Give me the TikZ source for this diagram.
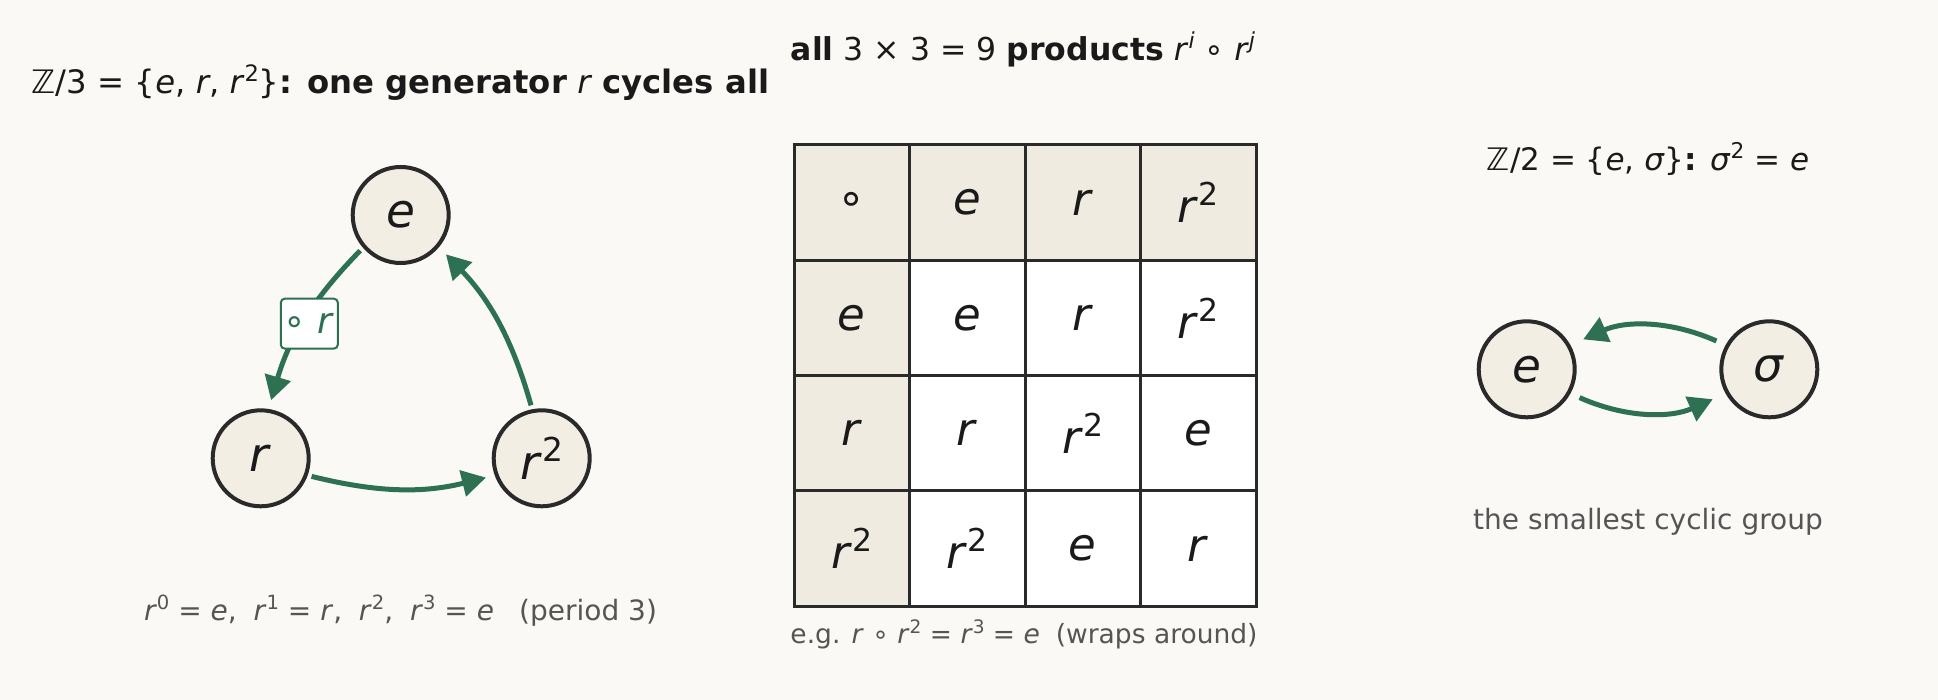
\documentclass[tikz,border=0pt]{standalone}
\usepackage{fontspec}
\usepackage{graphicx}
\setmainfont{DejaVu Sans}
\usetikzlibrary{arrows.meta}
\definecolor{bg}{HTML}{FAF9F6}
\definecolor{nodefill}{HTML}{F2EEE4}
\definecolor{nodeline}{HTML}{2A2A2A}
\definecolor{grn}{HTML}{2E7052}
\definecolor{headfill}{HTML}{EFEBE0}
\definecolor{tabline}{HTML}{2A2A2A}
\definecolor{titlec}{HTML}{1A1A1A}
\definecolor{capc}{HTML}{555555}
\newcommand\mi[1]{\textit{#1}}
\newcommand\ssp[1]{\raisebox{0.38em}{\scalebox{0.7}{#1}}}
\newcommand\cs{,\hspace{0.6em}}
\tikzset{
  elem/.style={circle, draw=nodeline, fill=nodefill, line width=4pt, minimum size=96pt, inner sep=0pt, text=titlec, font=\fontsize{47}{54}\selectfont},
  garrow/.style={draw=grn, line width=5pt, -{Triangle[length=24pt,width=26pt]}},
  cellh/.style={rectangle, draw=tabline, fill=headfill, line width=3pt, minimum width=115.5pt, minimum height=115.25pt, inner sep=0pt, text=titlec, font=\fontsize{45}{52}\selectfont},
  cellb/.style={cellh, fill=white},
  ttl/.style={text=titlec, anchor=base, inner sep=0pt},
  captext/.style={font=\fontsize{28}{34}\selectfont, text=capc, anchor=base, inner sep=0pt},
  oplabel/.style={rectangle, rounded corners=4pt, draw=grn, fill=white, line width=2pt, text=grn, font=\fontsize{36}{42}\selectfont, minimum width=57pt, minimum height=50pt, inner sep=0pt}
}
\begin{document}
\begin{tikzpicture}[x=1pt,y=1pt]
\fill[bg] (0,0) rectangle (1938,-700);
\useasboundingbox (0,0) rectangle (1938,-700);

% titles
\node[ttl, font=\fontsize{32.3}{38}\selectfont] (t1) at (400.5,-93.3) {ℤ/3 = \{\mi{e}, \mi{r}, \mi{r}\ssp{2}\}\textbf{: one generator} \mi{r} \textbf{cycles all}};
\node[ttl, font=\fontsize{31.5}{38}\selectfont] (t2) at (1023,-60.7) {\textbf{all} 3 × 3 = 9 \textbf{products} \mi{r}\ssp{\mi{i}} ∘ \mi{r}\ssp{\mi{j}}};
\node[ttl, font=\fontsize{31}{37}\selectfont] (t3) at (1648,-170.5) {ℤ/2 = \{\mi{e}, \mi{σ}\}\textbf{:} \mi{σ}\ssp{2} = \mi{e}};

% Z/3 cycle
\node[elem] (e3) at (400.7,-215) {\mi{e}};
\node[elem] (r3) at (260.7,-458.3) {\mi{r}};
\node[elem] (r23) at (541.7,-458.3) {\mi{r}\ssp{2}};
\draw[garrow, shorten <=4pt, shorten >=9pt] (e3.221) to[bend right=14] node[oplabel, xshift=5pt, yshift=-2pt] (lbl) {∘ \mi{r}} (r3.81);
\draw[garrow, shorten <=4pt, shorten >=9pt] (r3.340) to[bend right=14] (r23.200);
\draw[garrow, shorten <=4pt, shorten >=10pt] (r23.101) to[bend right=14] (e3.320);
\node[captext] (c1) at (400.5,-620) {\mi{r}\ssp{0} = \mi{e}\cs\mi{r}\ssp{1} = \mi{r}\cs\mi{r}\ssp{2}\cs\mi{r}\ssp{3} = \mi{e}\hspace{0.9em}(period 3)};

% table
\node[cellh] (c00) at (851.75,-202.6) {∘};
\node[cellh] (c01) at (967.25,-202.6) {\mi{e}};
\node[cellh] (c02) at (1082.75,-202.6) {\mi{r}};
\node[cellh] (c03) at (1198.25,-202.6) {\mi{r}\ssp{2}};
\node[cellh] (c10) at (851.75,-317.9) {\mi{e}};
\node[cellb] (c11) at (967.25,-317.9) {\mi{e}};
\node[cellb] (c12) at (1082.75,-317.9) {\mi{r}};
\node[cellb] (c13) at (1198.25,-317.9) {\mi{r}\ssp{2}};
\node[cellh] (c20) at (851.75,-433.1) {\mi{r}};
\node[cellb] (c21) at (967.25,-433.1) {\mi{r}};
\node[cellb] (c22) at (1082.75,-433.1) {\mi{r}\ssp{2}};
\node[cellb] (c23) at (1198.25,-433.1) {\mi{e}};
\node[cellh] (c30) at (851.75,-548.4) {\mi{r}\ssp{2}};
\node[cellb] (c31) at (967.25,-548.4) {\mi{r}\ssp{2}};
\node[cellb] (c32) at (1082.75,-548.4) {\mi{e}};
\node[cellb] (c33) at (1198.25,-548.4) {\mi{r}};
\node[captext, font=\fontsize{26.5}{32}\selectfont] (c2) at (1024,-643.3) {e.g. \mi{r} ∘ \mi{r}\ssp{2} = \mi{r}\ssp{3} = \mi{e}\hspace{0.6em}(wraps around)};

% Z/2
\node[elem] (e2) at (1526.7,-369.3) {\mi{e}};
\node[elem] (s2) at (1769.3,-369.3) {\mi{σ}};
\draw[garrow, shorten <=10pt, shorten >=14pt] (s2.151) to[bend right=24] (e2.29);
\draw[garrow, shorten <=10pt, shorten >=14pt] (e2.331) to[bend right=24] (s2.209);
\node[captext] (c3) at (1648,-529.3) {the smallest cyclic group};
\end{tikzpicture}
\end{document}
